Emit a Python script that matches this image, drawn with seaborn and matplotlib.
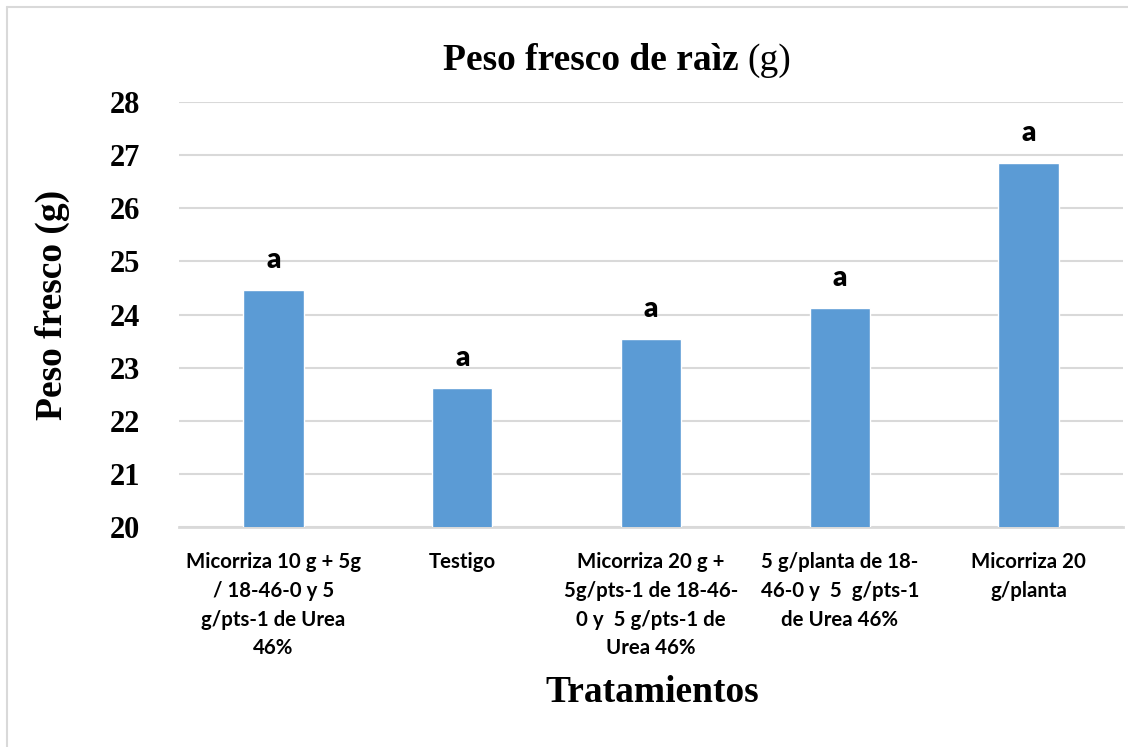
import matplotlib
matplotlib.use("Agg")
import matplotlib.pyplot as plt
from matplotlib.lines import Line2D
import seaborn as sns
import pandas as pd

# Treatments and mean root fresh weight (g)
tratamientos = [
    "Micorriza 10 g + 5g\n/ 18-46-0 y 5\ng/pts-1 de Urea\n46%",
    "Testigo",
    "Micorriza 20 g +\n5g/pts-1 de 18-46-\n0 y  5 g/pts-1 de\nUrea 46%",
    "5 g/planta de 18-\n46-0 y  5  g/pts-1\nde Urea 46%",
    "Micorriza 20\ng/planta",
]
peso_fresco = [24.46, 22.62, 23.54, 24.12, 26.85]
letras = ["a", "a", "a", "a", "a"]
y_ticks = [20, 21, 22, 23, 24, 25, 26, 27, 28]

df = pd.DataFrame({"Tratamiento": tratamientos, "Peso": peso_fresco})

sns.set_theme(style="white")
plt.rcParams["font.family"] = ["Liberation Serif", "DejaVu Serif"]
plt.rcParams["text.color"] = "black"
plt.rcParams["xtick.color"] = "black"
plt.rcParams["ytick.color"] = "black"

W, H = 1128, 747
fig = plt.figure(figsize=(W / 100, H / 100), dpi=100)
ax = fig.add_axes([179 / W, 1 - 527 / H, (1123 - 179) / W, (527 - 102) / H])

bar_color = "#5B9BD5"
sns.barplot(data=df, x="Tratamiento", y="Peso", color=bar_color, width=0.32,
            saturation=1, ax=ax, zorder=3)

ax.set_ylim(20, 28)
ax.set_yticks(y_ticks)
ax.set_yticklabels([str(t) for t in y_ticks], fontsize=22, fontweight="bold",
                   family=["Liberation Serif"], color="black")
ax.yaxis.grid(True, color="#d9d9d9", linewidth=1.5, zorder=0)
ax.set_axisbelow(True)
ax.tick_params(axis="y", length=0, pad=28)
ax.tick_params(axis="x", length=0, pad=18)
for lbl in ax.get_xticklabels():
    lbl.set_fontfamily(["Lato", "DejaVu Sans"])
    lbl.set_fontweight("bold")
    lbl.set_fontsize(14.7)
    lbl.set_linespacing(1.55)
    lbl.set_verticalalignment("top")
    lbl.set_color("black")
ax.set_xlabel("")
ax.set_ylabel("")
for s in ["left", "right", "top"]:
    ax.spines[s].set_visible(False)
ax.spines["bottom"].set_color("#d9d9d9")
ax.spines["bottom"].set_linewidth(2)

# significance letters above each bar
for i, (v, l) in enumerate(zip(peso_fresco, letras)):
    ax.annotate(l, xy=(i, v), xytext=(0, 12), textcoords="offset points",
                ha="center", va="bottom", fontsize=20, fontweight="heavy",
                family=["Lato", "DejaVu Sans"], color="black")

# title: bold part plus regular unit
fig.canvas.draw()
renderer = fig.canvas.get_renderer()
t1 = fig.text(0, 1 - 70 / H, "Peso fresco de raìz ", fontsize=27, fontweight="bold",
              ha="left", va="baseline", color="black")
t2 = fig.text(0, 1 - 70 / H, "(g)", fontsize=27, ha="left", va="baseline", color="black")
w1 = t1.get_window_extent(renderer).width
w2 = t2.get_window_extent(renderer).width
x0 = 617 - (w1 + w2) / 2
t1.set_x(x0 / W)
t2.set_x((x0 + w1) / W)

fig.text(52 / W, 1 - 305 / H, "Peso fresco (g)", rotation=90, fontsize=27,
         fontweight="bold", ha="center", va="center", color="black")
fig.text(652 / W, 1 - 702 / H, "Tratamientos", fontsize=27, fontweight="bold",
         ha="center", va="baseline", color="black")

# chart frame
fig.add_artist(Line2D([7 / W, 7 / W], [0, 1 - 7 / H], color="#d9d9d9", linewidth=1.5,
                      transform=fig.transFigure))
fig.add_artist(Line2D([7 / W, 1], [1 - 7 / H, 1 - 7 / H], color="#d9d9d9", linewidth=1.5,
                      transform=fig.transFigure))

fig.savefig("out.png", dpi=100, facecolor="white")
